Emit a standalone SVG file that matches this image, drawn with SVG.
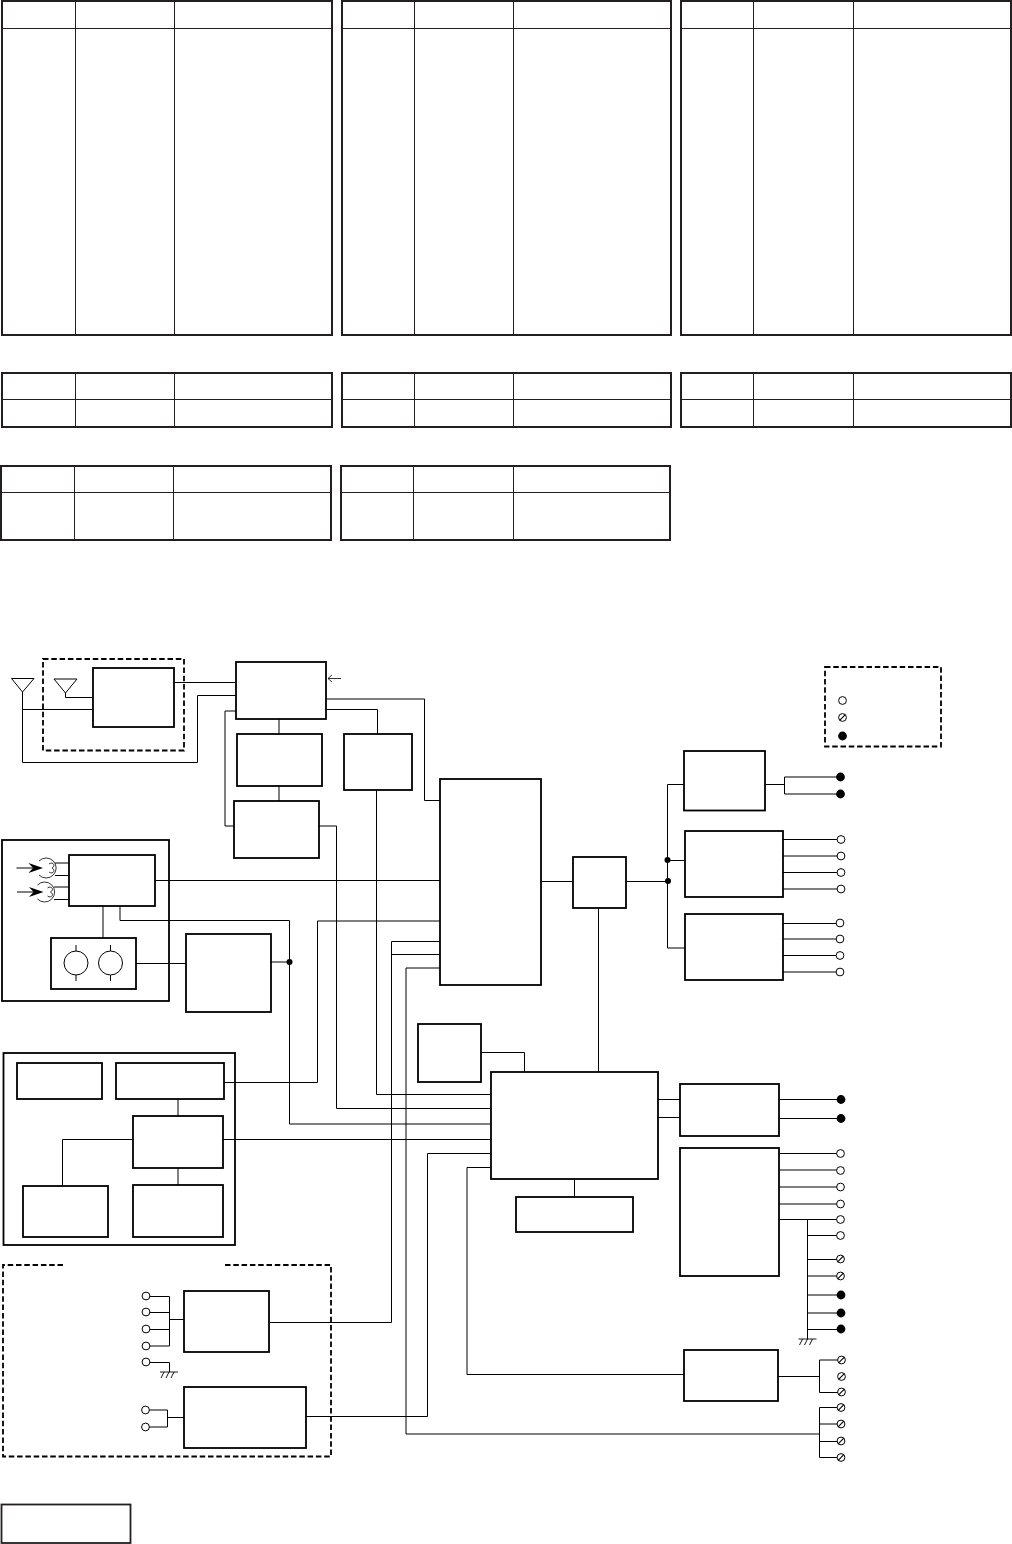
<svg xmlns="http://www.w3.org/2000/svg" width="1012" height="1544" viewBox="0 0 1012 1544">
<style>
.t{fill:#fff;stroke:#231f20;stroke-width:2}
.tl{fill:none;stroke:#231f20;stroke-width:1}
.b{fill:#fff;stroke:#000;stroke-width:1.8}
.o{fill:none;stroke:#000;stroke-width:1.8}
.d{fill:none;stroke:#000;stroke-width:1.8;stroke-dasharray:5.500 2.800}
.c{fill:none;stroke:#000;stroke-width:1}
.s{fill:none;stroke:#000;stroke-width:.8}
</style>
<defs>
<g id="open"><circle r="3.900" fill="#fff" stroke="#000" stroke-width="1"/></g>
<g id="hat"><circle r="3.900" fill="#fff" stroke="#000" stroke-width="1"/><path d="M-2.800 2.800L2.800-2.800" stroke="#000" stroke-width="1.100"/></g>
<g id="fill"><circle r="4.400" fill="#000"/></g>
<g id="gnd"><path d="M-9 0H9M-5 0L-8 6M0 0L-3 6M5 0L2 6" fill="none" stroke="#000" stroke-width=".9"/></g>
</defs>

<g id="table-1"><rect class="t" x="2" y="1" width="330" height="334"/><path class="tl" d="M2 28.500H332M75.500 1V335M174.500 1V335"/></g>
<g id="table-2"><rect class="t" x="342" y="1" width="329" height="334"/><path class="tl" d="M342 28.500H671M414.500 1V335M513.500 1V335"/></g>
<g id="table-3"><rect class="t" x="681" y="1" width="330" height="334"/><path class="tl" d="M681 28.500H1011M753.500 1V335M853.500 1V335"/></g>
<g id="table-4"><rect class="t" x="2" y="373" width="330" height="54"/><path class="tl" d="M2 399.500H332M75.500 373V427M174.500 373V427"/></g>
<g id="table-5"><rect class="t" x="342" y="373" width="329" height="54"/><path class="tl" d="M342 399.500H671M414.500 373V427M513.500 373V427"/></g>
<g id="table-6"><rect class="t" x="681" y="373" width="330" height="54"/><path class="tl" d="M681 399.500H1011M753.500 373V427M853.500 373V427"/></g>
<g id="table-7"><rect class="t" x="1" y="466" width="330" height="74"/><path class="tl" d="M1 492.500H331M74.500 466V540M173.500 466V540"/></g>
<g id="table-8"><rect class="t" x="341" y="466" width="329" height="74"/><path class="tl" d="M341 492.500H670M413.500 466V540M513.500 466V540"/></g>

<g id="frames">
<rect id="frame-antenna" class="d" x="43" y="659" width="141" height="91.500"/>
<rect id="frame-cam" class="o" x="2" y="840" width="167" height="161"/>
<rect id="frame-ctrl" class="o" x="3.500" y="1053" width="231.500" height="192"/>
<path id="frame-opt" class="d" d="M63 1265H3V1456.500H331V1265H223"/>
<rect id="frame-legend" class="d" x="825" y="667" width="116" height="79.500"/>
</g>

<g id="connectors">
<path class="c" d="M22.500 692V762.500H197.500V695.500H236M22.500 709.500H93M65.500 693V697.500H93M174 682.500H236"/>
<path class="s" d="M341 678.500H328M332 675L328 678.500L332 682"/>
<path class="c" d="M326 699H424.500V800.500H440M326 709.500H377.500V734M236 711H225V826H234"/>
<path class="c" d="M279 719V734M279 786V801"/>
<path class="c" d="M376.500 790V1094.500H491M319 826H336.500V1108.500H491"/>
<path class="c" d="M155 880.500H440M103 906V938M120 906V920.500H289.500V1124H491"/>
<path class="c" d="M136 963.500H186M271 962H289.500"/>
<path class="c" d="M440 921H317.500V1082.500H224M440 941.500H391.500V1322.500H269M440 954.500H391.500M440 968H406V1434H820"/>
<path class="c" d="M541 881.500H573M626 881.500H667.500M598.500 908V1072"/>
<path class="c" d="M684 784.500H667.500V948H685M667.500 860.500H685"/>
<path class="c" d="M765 784.500H784.500M784.500 777V794M784.500 777H837M784.500 794H837"/>
<path class="c" d="M783 839.500H838M783 856H838M783 872.500H838M783 889H838"/>
<path class="c" d="M783 923.500H838M783 939H838M783 955.500H838M783 972H838"/>
<path class="c" d="M481 1052.500H524.500V1072M574.500 1179V1197"/>
<path class="c" d="M658 1099.500H680M658 1117.500H680"/>
<path class="c" d="M779 1099.500H838M779 1118.500H838"/>
<path class="c" d="M779 1153.500H837M779 1170H837M779 1187H837M779 1204H837M779 1219.500H837"/>
<path class="c" d="M807.500 1219.500V1339M807.500 1235.500H837M807.500 1259.500H837M807.500 1276H837M807.500 1295H837M807.500 1313H837M807.500 1329.500H837"/>
<path class="c" d="M491 1167.500H467V1374.500H684M778 1376.500H819.500M819.500 1360V1392.500M819.500 1360H838M819.500 1392.500H838"/>
<path class="c" d="M819.500 1407.500V1457.500M819.500 1407.500H838M819.500 1424H838M819.500 1441.500H838M819.500 1457.500H838"/>
<path class="c" d="M491 1153.500H427.500V1416.500H306M223 1139.500H491M133 1139.500H62.500V1186"/>
<path class="c" d="M178 1099V1116M178 1168V1185"/>
<path class="c" d="M150 1296.500H169.500M150 1312.500H169.500M150 1329.500H169.500M150 1346H169.500M169.500 1296.500V1346M169.500 1319.500H184"/>
<path class="c" d="M150 1362.500H169.500V1372"/>
<path class="c" d="M149 1410H167.500V1427H149M167.500 1417.500H184"/>
<path class="c" d="M55 863H69M55 875.500H69M54 887H69M54 899.500H69"/>
</g>

<g id="antenna-1"><path class="c" d="M11.500 678.500H34L22.500 692Z"/></g>
<g id="antenna-2"><path class="c" d="M54 679H77L65.500 693Z"/></g>
<g id="box-a"><rect class="b" x="93" y="668" width="81" height="59"/></g>
<g id="box-b"><rect class="b" x="236" y="662" width="90" height="57"/></g>
<g id="box-c"><rect class="b" x="237" y="734" width="85" height="52"/></g>
<g id="box-d"><rect class="b" x="344" y="734" width="68" height="56"/></g>
<g id="box-e"><rect class="b" x="234" y="801" width="85" height="57"/></g>
<g id="box-g"><rect class="b" x="69" y="855" width="86" height="51"/></g>
<g id="mic-1">
<path class="s" d="M39 861A10 10 0 1 1 39 875"/><path class="s" d="M49 864C53 861 56 866 52 868C56 870 53 875 49 872"/>
<path class="c" d="M16.500 868H34"/><path d="M28.500 863L43 868L28.500 873L33 868Z" fill="#000"/>
</g>
<g id="mic-2">
<path class="s" d="M37.500 885A10 10 0 1 1 37.500 899"/><path class="s" d="M47.500 888C51.500 885 54.500 890 50.500 892C54.500 894 51.500 899 47.500 896"/>
<path class="c" d="M17 892H34"/><path d="M29 887L43.500 892L29 897L33.500 892Z" fill="#000"/>
</g>
<g id="box-h"><rect class="b" x="51" y="938" width="85" height="51"/>
<circle class="c" cx="76" cy="963" r="12"/><circle class="c" cx="110.500" cy="963" r="12"/>
<path class="c" d="M76 945V951M76 975V981M110.500 945V951M110.500 975V981"/></g>
<g id="box-i"><rect class="b" x="186" y="934" width="85" height="78"/></g>
<circle id="dot-1" cx="289.500" cy="962" r="3"/>
<g id="box-j"><rect class="b" x="440" y="779" width="101" height="206"/></g>
<g id="box-k"><rect class="b" x="573" y="857" width="53" height="51"/></g>
<circle id="dot-2" cx="667.500" cy="860" r="3"/>
<circle id="dot-3" cx="668" cy="881" r="3"/>
<g id="box-l"><rect class="b" x="684" y="751" width="81" height="59.500"/></g>
<g id="box-m"><rect class="b" x="685" y="831" width="98" height="66"/></g>
<g id="box-n"><rect class="b" x="685" y="914" width="98" height="66"/></g>
<g id="box-o"><rect class="b" x="418" y="1024" width="63" height="58"/></g>
<g id="box-p"><rect class="b" x="491" y="1072" width="167" height="107"/></g>
<g id="box-q"><rect class="b" x="516" y="1197" width="117" height="35"/></g>
<g id="box-r"><rect class="b" x="680" y="1084" width="99" height="52"/></g>
<g id="box-s"><rect class="b" x="680" y="1148" width="99" height="128"/></g>
<g id="box-t"><rect class="b" x="684" y="1350" width="94" height="51"/></g>
<g id="box-v1"><rect class="b" x="17" y="1063" width="85" height="36"/></g>
<g id="box-v2"><rect class="b" x="116" y="1063" width="108" height="36"/></g>
<g id="box-w"><rect class="b" x="133" y="1116" width="90" height="52"/></g>
<g id="box-u"><rect class="b" x="23" y="1186" width="85" height="51"/></g>
<g id="box-x"><rect class="b" x="133" y="1185" width="90" height="52"/></g>
<g id="box-y"><rect class="b" x="184" y="1291" width="85" height="61"/></g>
<g id="box-z"><rect class="b" x="184" y="1387" width="122" height="61"/></g>
<g id="box-note"><rect x="1.500" y="1504.500" width="129" height="38.500" fill="#fff" stroke="#231f20" stroke-width="1.800"/></g>

<g id="terminals">
<use href="#open" x="842.500" y="700.500"/><use href="#hat" x="842.500" y="717.500"/><use href="#fill" x="842.500" y="736"/>
<use href="#fill" x="840.500" y="777"/><use href="#fill" x="840.500" y="794"/>
<use href="#open" x="841" y="839.500"/><use href="#open" x="841" y="856"/><use href="#open" x="841" y="872.500"/><use href="#open" x="841" y="889"/>
<use href="#open" x="840" y="923"/><use href="#open" x="840" y="939"/><use href="#open" x="840" y="955.500"/><use href="#open" x="840" y="972"/>
<use href="#fill" x="841" y="1099.500"/><use href="#fill" x="841" y="1118.500"/>
<use href="#open" x="840.500" y="1153.500"/><use href="#open" x="840.500" y="1170.500"/><use href="#open" x="840.500" y="1187"/><use href="#open" x="840.500" y="1204"/><use href="#open" x="840.500" y="1219.500"/><use href="#open" x="840.500" y="1235.500"/>
<use href="#hat" x="840.500" y="1259"/><use href="#hat" x="840.500" y="1276"/>
<use href="#fill" x="841" y="1295"/><use href="#fill" x="841" y="1313"/><use href="#fill" x="841" y="1329"/>
<use href="#hat" x="841.500" y="1360"/><use href="#hat" x="841.500" y="1376.500"/><use href="#hat" x="841.500" y="1392"/>
<use href="#hat" x="841" y="1407.500"/><use href="#hat" x="841" y="1424"/><use href="#hat" x="841" y="1441"/><use href="#hat" x="841" y="1457.500"/>
<use href="#open" x="146" y="1296"/><use href="#open" x="146" y="1312"/><use href="#open" x="146" y="1329"/><use href="#open" x="146" y="1346"/><use href="#open" x="146" y="1362"/>
<use href="#open" x="145.500" y="1410"/><use href="#open" x="145.500" y="1427"/>
<use href="#gnd" x="807.500" y="1339"/><use href="#gnd" x="169" y="1372"/>
</g>
</svg>
